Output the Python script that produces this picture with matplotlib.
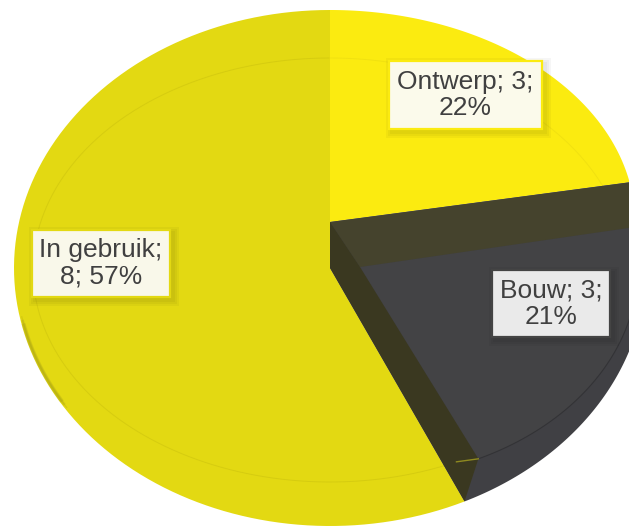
import numpy as np
import matplotlib.pyplot as plt
from matplotlib.patches import Polygon, Rectangle

plt.rcParams['font.family'] = ['Liberation Sans', 'DejaVu Sans']

categories = ['Ontwerp', 'Bouw', 'In gebruik']
counts = [3, 3, 8]
percents = [22, 21, 57]
label_lines = ['Ontwerp; 3;\n22%', 'Bouw; 3;\n21%', 'In gebruik;\n8; 57%']

# cumulative angles, clockwise from 12 o'clock
ang = np.cumsum([0] + percents) * 3.6
a1, a2 = ang[1], ang[2]

# ellipses (cx, cy, rx, ry) of the fake 3d pie, in pixels
outer = (330, 268, 316, 258)
outer_in = (330, 268, 314, 256)
back = (330, 222, 305, 212)
face = (330, 270, 297, 212)
dark_face = (360, 267, 278, 212)


def pt(e, a):
    t = np.radians(a)
    return e[0] + e[2] * np.sin(t), e[1] - e[3] * np.cos(t)


def arc(e, a0, b0, n=120):
    return [pt(e, a) for a in np.linspace(a0, b0, n)]


def sector(e, a0, b0):
    return [(e[0], e[1])] + arc(e, a0, b0)


fig = plt.figure(figsize=(6.29, 5.29), dpi=100)
ax = fig.add_axes([0, 0, 1, 1])
ax.set_xlim(0, 629)
ax.set_ylim(529, 0)
ax.axis('off')

# In gebruik
ax.add_patch(Polygon(sector(outer, a2, 360), fc='#E3D912', ec='none'))
# darker edge on the left side, fading out at both ends
for lw, al in [(3, 0.18), (2, 0.18), (1, 0.18)]:
    ax.plot(*zip(*arc(outer_in, 236 + lw, 260 - lw)), color='#8F8814', lw=lw, alpha=al, zorder=1)
ax.plot(*zip(*arc(face, a2, 360)), color='#D6CC10', lw=0.7, zorder=1)

# Ontwerp
ax.add_patch(Polygon(sector(back, 0, a1), fc='#FBEB10', ec='none'))
ax.plot(*zip(*arc(face, 0, a1)), color='#F1E110', lw=0.7, zorder=1)

# Bouw, lower rim and the walls
rim = [(back[0], back[1]), pt(back, a1)] + arc(outer, a1, a2) + [(outer[0], outer[1])]
ax.add_patch(Polygon(rim, fc='#404044', ec='none'))
ax.add_patch(Polygon(sector(dark_face, a1, a2), fc='#434345', ec='none'))
ax.plot(*zip(*arc(dark_face, a1, a2)), color='#333336', lw=0.8, zorder=1)
ax.add_patch(Polygon([(back[0], back[1]), pt(back, a1), pt(dark_face, a1),
                      (dark_face[0], dark_face[1])], fc='#45432D', ec='none'))
ax.add_patch(Polygon([(back[0], back[1]), (outer[0], outer[1]), pt(outer, a2),
                      pt(dark_face, a2), (dark_face[0], dark_face[1])],
                     fc='#3A3820', ec='none'))
ax.plot(*zip(pt(face, a2), pt(dark_face, a2)), color='#8F8A20', lw=1, zorder=1)

# labels: x0, y0, x1, y1
boxes = [(389, 61, 542, 129), (492, 270, 610, 337), (32, 230, 170, 297)]
fills = ['#FBFAEB', '#EAEAEA', '#F9F8EA']
edges = ['#FBEB10', '#444444', '#E3D912']
for txt, b, fc, ec in zip(label_lines, boxes, fills, edges):
    # soft shadow
    for grow in [6, 4, 2]:
        ax.add_patch(Rectangle((b[0] + 3 - grow, b[1] + 3 - grow), b[2] - b[0] + 2 * grow,
                               b[3] - b[1] + 2 * grow, fc='#000000', ec='none', alpha=0.035))
    ax.add_patch(Rectangle((b[0], b[1]), b[2] - b[0], b[3] - b[1], fc=fc, ec=ec, lw=1.6))
    ax.text((b[0] + b[2]) / 2, (b[1] + b[3]) / 2, txt, ha='center', va='center',
            fontsize=19, color='#404040', linespacing=1.12)

fig.savefig('out.png', dpi=100)
